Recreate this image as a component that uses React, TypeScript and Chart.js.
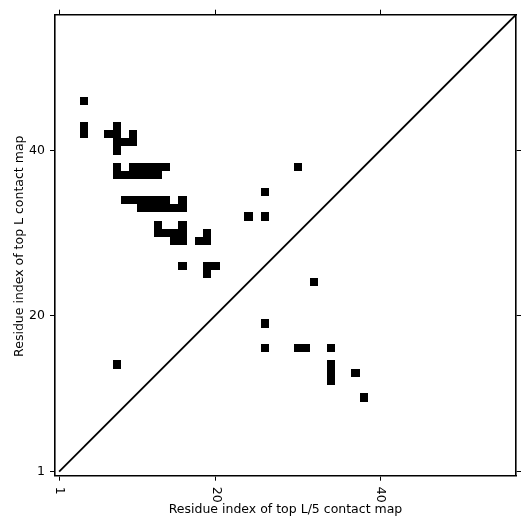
import React, { useEffect, useRef } from "react";
import { Chart, registerables } from "chart.js";

Chart.register(...registerables);

// Contact cells (x = residue index in top L/5 map, y = residue index in top L map)
const cellX = [
  4, 4, 4,
  8, 7, 8, 10, 8, 9, 10, 8,
  8, 10, 11, 12, 13, 14,
  8, 9, 10, 11, 12, 13,
  9, 10, 11, 12, 13, 14, 16,
  11, 12, 13, 14, 15, 16,
  13, 16,
  13, 14, 15, 16, 19,
  15, 16, 18, 19,
  16, 19, 20, 19,
  30, 26, 24, 26,
  32, 26, 26, 30, 31, 34, 34, 34, 34, 37, 38, 8,
];
const cellY = [
  46, 43, 42,
  43, 42, 42, 42, 41, 41, 41, 40,
  38, 38, 38, 38, 38, 38,
  37, 37, 37, 37, 37, 37,
  34, 34, 34, 34, 34, 34, 34,
  33, 33, 33, 33, 33, 33,
  31, 31,
  30, 30, 30, 30, 30,
  29, 29, 29, 29,
  26, 26, 26, 25,
  38, 35, 32, 32,
  24, 19, 16, 16, 16, 16, 14, 13, 12, 13, 10, 14,
];
const tickValues = [1, 20, 40];
const diagonalX = [1, 56.5];
const diagonalY = [1, 56.5];
const axisMin = 0.5;
const axisMax = 56.5;
const xTitle = "Residue index of top L/5 contact map";
const yTitle = "Residue index of top L contact map";

const FONT = '12.5px "DejaVu Sans"';

const setTicks = (s: any) => {
  s.ticks = tickValues.map((v) => ({ value: v }));
};

const commonGrid = {
  drawOnChartArea: false,
  drawTicks: true,
  tickLength: 5,
  color: "#000",
  lineWidth: 1,
};
const commonBorder = { display: true, color: "#000", width: 1.6 };

const cellPlugin = {
  id: "cells",
  beforeDatasetsDraw(chart: any) {
    const { ctx, scales } = chart;
    const xs = scales.x;
    const ys = scales.y;
    const pts = chart.data.datasets[0].data as { x: number; y: number }[];
    ctx.save();
    ctx.fillStyle = "#000";
    for (const p of pts) {
      const x0 = Math.round(xs.getPixelForValue(p.x - 0.5));
      const x1 = Math.round(xs.getPixelForValue(p.x + 0.5));
      const y0 = Math.round(ys.getPixelForValue(p.y + 0.5));
      const y1 = Math.round(ys.getPixelForValue(p.y - 0.5));
      ctx.fillRect(x0, y0, x1 - x0, y1 - y0);
    }
    ctx.restore();
  },
};

const textPlugin = {
  id: "texts",
  afterDraw(chart: any) {
    const { ctx, scales, chartArea } = chart;
    const xs = scales.x;
    const ys = scales.y;
    ctx.save();
    ctx.fillStyle = "#000";
    ctx.font = FONT;
    // y tick labels
    ctx.textAlign = "right";
    ctx.textBaseline = "middle";
    for (const v of tickValues) {
      ctx.fillText(String(v), chartArea.left - 10, ys.getPixelForValue(v) + 0.5);
    }
    // x tick labels, rotated clockwise
    ctx.textAlign = "left";
    ctx.textBaseline = "alphabetic";
    for (const v of tickValues) {
      const px = xs.getPixelForValue(v);
      ctx.save();
      ctx.translate(px - 3, chartArea.bottom + 11);
      ctx.rotate(Math.PI / 2);
      ctx.fillText(String(v), 0, 0);
      ctx.restore();
    }
    // axis titles
    ctx.textAlign = "center";
    ctx.textBaseline = "middle";
    ctx.fillText(xTitle, (chartArea.left + chartArea.right) / 2, 510);
    ctx.save();
    ctx.translate(20, (chartArea.top + chartArea.bottom) / 2 + 1);
    ctx.rotate(-Math.PI / 2);
    ctx.fillText(yTitle, 0, 0);
    ctx.restore();
    ctx.restore();
  },
};

export default function App() {
  const ref = useRef<HTMLCanvasElement | null>(null);
  useEffect(() => {
    if (!ref.current) return;
    const chart = new Chart(ref.current, {
      type: "scatter",
      data: {
        datasets: [
          {
            label: "contacts",
            data: cellX.map((x, i) => ({ x, y: cellY[i] })),
            pointRadius: 0,
            showLine: false,
          },
          {
            label: "diagonal",
            data: diagonalX.map((x, i) => ({ x, y: diagonalY[i] })),
            showLine: true,
            borderColor: "#000",
            borderWidth: 1.8,
            pointRadius: 0,
          },
        ],
      },
      options: {
        animation: false,
        responsive: false,
        devicePixelRatio: 1,
        layout: { padding: 0 },
        plugins: { legend: { display: false }, tooltip: { enabled: false } },
        scales: {
          x: {
            type: "linear",
            position: "bottom",
            min: axisMin,
            max: axisMax,
            afterBuildTicks: setTicks,
            ticks: { display: false, autoSkip: false },
            grid: commonGrid,
            border: commonBorder,
            afterFit: (s: any) => {
              s.height = 55.3;
            },
          },
          y: {
            type: "linear",
            position: "left",
            min: axisMin,
            max: axisMax,
            afterBuildTicks: setTicks,
            ticks: { display: false, autoSkip: false },
            grid: commonGrid,
            border: commonBorder,
            afterFit: (s: any) => {
              s.width = 55;
            },
          },
          x2: {
            type: "linear",
            axis: "x",
            position: "top",
            min: axisMin,
            max: axisMax,
            afterBuildTicks: setTicks,
            ticks: { display: false, autoSkip: false },
            grid: commonGrid,
            border: commonBorder,
            afterFit: (s: any) => {
              s.height = 14.7;
            },
          },
          y2: {
            type: "linear",
            axis: "y",
            position: "right",
            min: axisMin,
            max: axisMax,
            afterBuildTicks: setTicks,
            ticks: { display: false, autoSkip: false },
            grid: commonGrid,
            border: commonBorder,
            afterFit: (s: any) => {
              s.width = 15;
            },
          },
        },
      } as any,
      plugins: [cellPlugin, textPlugin],
    });
    return () => chart.destroy();
  }, []);
  return (
    <div style={{ position: "absolute", left: 0, top: 0, width: 531, height: 531, background: "#fff" }}>
      <canvas ref={ref} width={531} height={531} style={{ display: "block" }} />
    </div>
  );
}
